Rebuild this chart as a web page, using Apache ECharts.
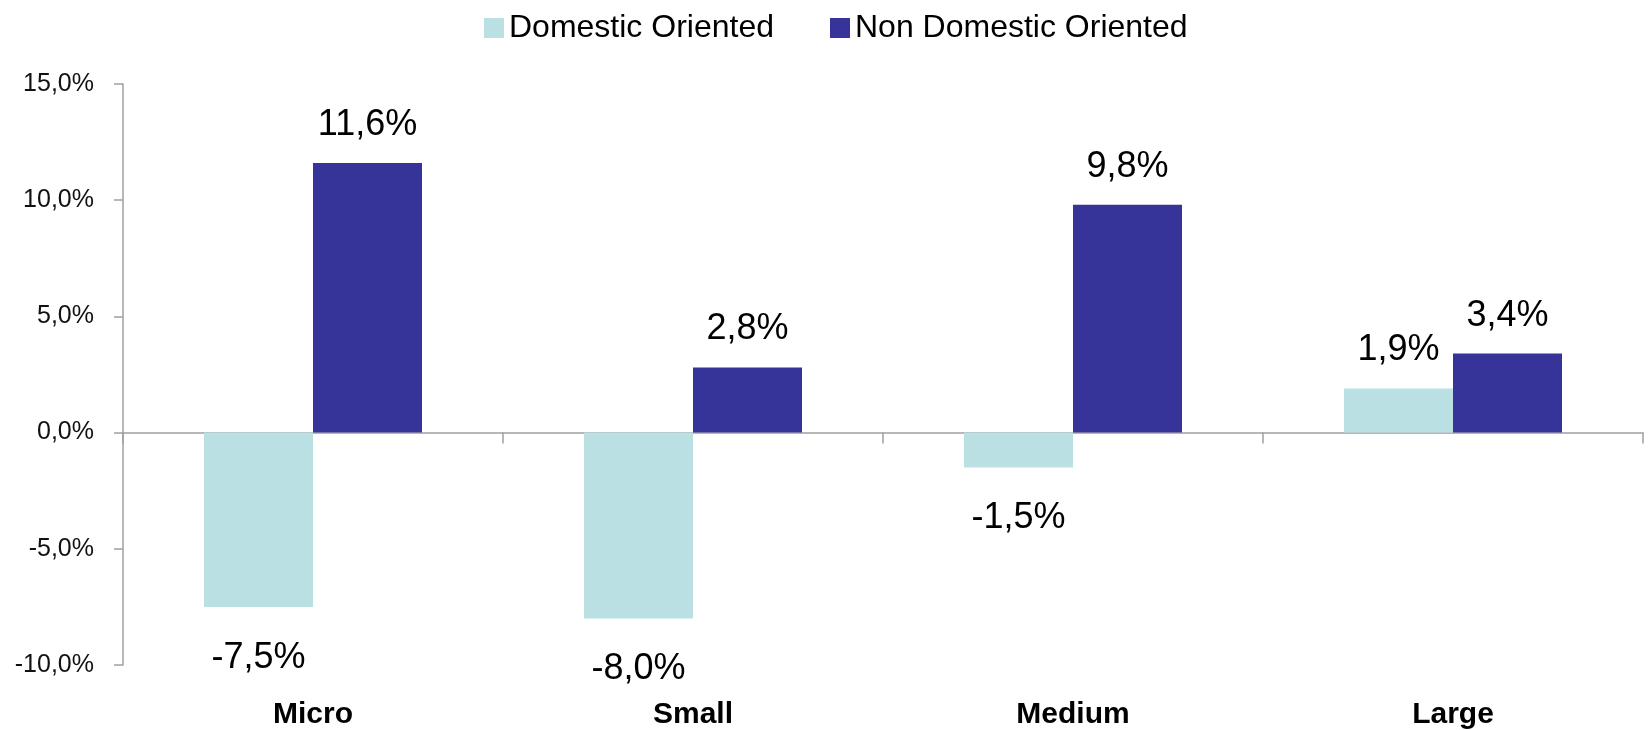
<!DOCTYPE html>
<html>
<head>
<meta charset="utf-8">
<style>
  html, body { margin: 0; padding: 0; background: #ffffff; }
  #chart { width: 1649px; height: 730px; }
</style>
<script src="https://cdn.jsdelivr.net/npm/echarts@6/dist/echarts.min.js"></script>
</head>
<body>
<div id="chart"></div>
<script>
// Firm size classes and growth rates (%) by market orientation
const categories = ['Micro', 'Small', 'Medium', 'Large'];
const domesticOriented = [-7.5, -8.0, -1.5, 1.9];
const nonDomesticOriented = [11.6, 2.8, 9.8, 3.4];
const seriesNames = ['Domestic Oriented', 'Non Domestic Oriented'];

const FONT = '"Liberation Sans", Arial, Helvetica, sans-serif';
const AXIS_GREY = '#a0a0a0';

// Percent with a decimal comma, e.g. 11,6%
const pct = v => Number(v).toFixed(1).replace('.', ',') + '%';

// Positive values get their label above the bar, negative ones below it
const withLabels = values => values.map(v => ({
  value: v,
  label: v < 0
    ? { position: 'bottom', distance: 33 }
    : { position: 'top', distance: 20 }
}));

const barLabel = {
  show: true,
  formatter: p => pct(p.value),
  fontFamily: FONT,
  fontSize: 36,
  color: '#000000'
};

const chart = echarts.init(document.getElementById('chart'), null, { renderer: 'canvas' });

chart.setOption({
  animation: false,
  backgroundColor: '#ffffff',
  legend: {
    data: seriesNames,
    left: 479,
    top: 7,
    itemWidth: 20,
    itemHeight: 20,
    itemGap: 56,
    icon: 'rect',
    textStyle: { fontFamily: FONT, fontSize: 32, color: '#000000' }
  },
  grid: { left: 123, right: 6, top: 84, bottom: 63, containLabel: false },
  xAxis: [
    {
      // zero line with boundary ticks
      type: 'category',
      data: categories,
      axisLine: { show: true, onZero: true, lineStyle: { color: AXIS_GREY, width: 1.5 } },
      axisTick: { show: true, length: 11, lineStyle: { color: AXIS_GREY, width: 1.5 } },
      axisLabel: { show: false },
      splitLine: { show: false }
    },
    {
      // category names along the bottom edge
      type: 'category',
      data: categories,
      position: 'bottom',
      axisLine: { show: false, onZero: false },
      axisTick: { show: false },
      axisLabel: { show: true, margin: 35, fontFamily: FONT, fontSize: 30, fontWeight: 'bold', color: '#000000' },
      splitLine: { show: false }
    }
  ],
  yAxis: {
    type: 'value',
    min: -10,
    max: 15,
    interval: 5,
    axisLine: { show: true, lineStyle: { color: AXIS_GREY, width: 1.5 } },
    axisTick: { show: true, length: 9, lineStyle: { color: AXIS_GREY, width: 1.5 } },
    axisLabel: { margin: 29, formatter: v => pct(v), fontFamily: FONT, fontSize: 25, color: '#111111' },
    splitLine: { show: false }
  },
  series: [
    {
      name: seriesNames[0],
      type: 'bar',
      xAxisIndex: 0,
      data: withLabels(domesticOriented),
      barWidth: 109,
      barGap: '0%',
      itemStyle: { color: '#bae0e3' },
      label: barLabel
    },
    {
      name: seriesNames[1],
      type: 'bar',
      xAxisIndex: 0,
      data: withLabels(nonDomesticOriented),
      barWidth: 109,
      barGap: '0%',
      itemStyle: { color: '#363399' },
      label: barLabel
    }
  ]
});
</script>
</body>
</html>
